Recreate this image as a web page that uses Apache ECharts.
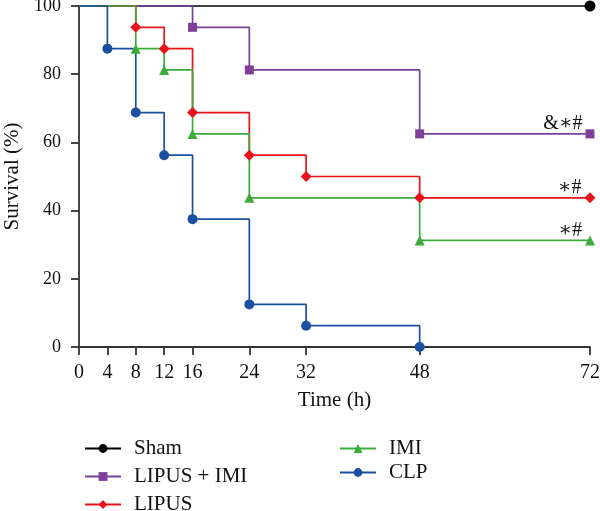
<!DOCTYPE html>
<html>
<head>
<meta charset="utf-8">
<script src="https://cdn.jsdelivr.net/npm/echarts@6/dist/echarts.min.js"></script>
<style>
  html, body { margin: 0; padding: 0; background: #fff; }
  #chart { width: 600px; height: 511px; }
</style>
</head>
<body>
<div id="chart"></div>
<script>
// survival data
const xTicks = [0, 4, 8, 12, 16, 24, 32, 48, 72];

const shamTime = [0, 72];
const shamSurv = [100, 100];

const comboTime = [0, 16, 24, 48, 72];
const comboSurv = [100, 93.75, 81.25, 62.5, 62.5];

const lipusTime = [0, 8, 12, 16, 24, 32, 48, 72];
const lipusSurv = [100, 93.75, 87.5, 68.75, 56.25, 50, 43.75, 43.75];

const imiTime = [0, 8, 12, 16, 24, 48, 72];
const imiSurv = [100, 87.5, 81.25, 62.5, 43.75, 31.25, 31.25];

const clpTime = [0, 4, 8, 12, 16, 24, 32, 48];
const clpSurv = [100, 87.5, 68.75, 56.25, 37.5, 12.5, 6.25, 0];

const FONT = '"Liberation Serif", "DejaVu Serif", serif';

function toData(times, surv, mark) {
    return times.map((t, i) => {
        const item = { value: [t, surv[i]] };
        if (i === 0) item.symbol = 'none';
        if (mark && i === times.length - 1) {
            item.label = {
                show: true,
                formatter: mark,
                position: 'left',
                distance: 3,
                offset: [0, -10],
                color: '#111',
                fontSize: 20,
                fontFamily: FONT
            };
        }
        return item;
    });
}

function kmSeries(name, times, surv, color, symbol, size, mark) {
    return {
        name: name,
        type: 'line',
        step: 'end',
        clip: false,
        data: toData(times, surv, mark),
        symbol: symbol,
        symbolSize: size,
        lineStyle: { color: color, width: 1.7 },
        itemStyle: { color: color },
        emphasis: { disabled: true },
        animation: false
    };
}

const chart = echarts.init(document.getElementById('chart'));

const legendText = {
    fontSize: 21,
    fontFamily: FONT,
    color: '#111',
    padding: [0, 0, 0, 8]
};

chart.setOption({
    backgroundColor: '#fff',
    grid: {
        left: 79,
        right: 10,
        top: 6,
        bottom: 164,
        outerBoundsMode: 'none'
    },
    legend: [
        {
            data: ['Sham', 'LIPUS + IMI', 'LIPUS'],
            orient: 'vertical',
            left: 79,
            top: 433,
            height: 150,
            itemWidth: 36,
            itemHeight: 11,
            itemGap: 7,
            textStyle: legendText
        },
        {
            data: ['IMI', 'CLP'],
            orient: 'vertical',
            left: 334,
            top: 433,
            height: 150,
            itemWidth: 36,
            itemHeight: 11,
            itemGap: 3,
            textStyle: legendText
        }
    ],
    xAxis: {
        type: 'value',
        min: 0,
        max: 72,
        name: 'Time (h)',
        nameLocation: 'middle',
        nameGap: 43,
        nameTextStyle: { fontSize: 21, fontFamily: FONT, color: '#111' },
        axisLine: { lineStyle: { color: '#333', width: 1.8 } },
        axisTick: {
            show: true,
            length: 8,
            customValues: xTicks,
            lineStyle: { color: '#333', width: 1.8 }
        },
        axisLabel: {
            customValues: xTicks,
            margin: 16,
            fontSize: 20,
            fontFamily: FONT,
            color: '#111'
        },
        splitLine: { show: false }
    },
    yAxis: {
        type: 'value',
        min: 0,
        max: 100,
        interval: 20,
        name: 'Survival (%)',
        nameLocation: 'middle',
        nameGap: 56,
        nameTextStyle: { fontSize: 21, fontFamily: FONT, color: '#111' },
        axisLine: { show: true, lineStyle: { color: '#333', width: 1.8 } },
        axisTick: { show: true, length: 8, lineStyle: { color: '#333', width: 1.8 } },
        axisLabel: {
            margin: 18,
            fontSize: 18,
            fontFamily: FONT,
            color: '#111'
        },
        splitLine: { show: false }
    },
    series: [
        kmSeries('Sham', shamTime, shamSurv, '#000000', 'circle', 11),
        kmSeries('LIPUS + IMI', comboTime, comboSurv, '#7d3f98', 'rect', 9, '&\u2217#'),
        kmSeries('LIPUS', lipusTime, lipusSurv, '#e8131b', 'diamond', 11, '\u2217#'),
        kmSeries('IMI', imiTime, imiSurv, '#3bab3a', 'triangle', 10, '\u2217#'),
        kmSeries('CLP', clpTime, clpSurv, '#1c4fa0', 'circle', 10)
    ]
});
</script>
</body>
</html>
